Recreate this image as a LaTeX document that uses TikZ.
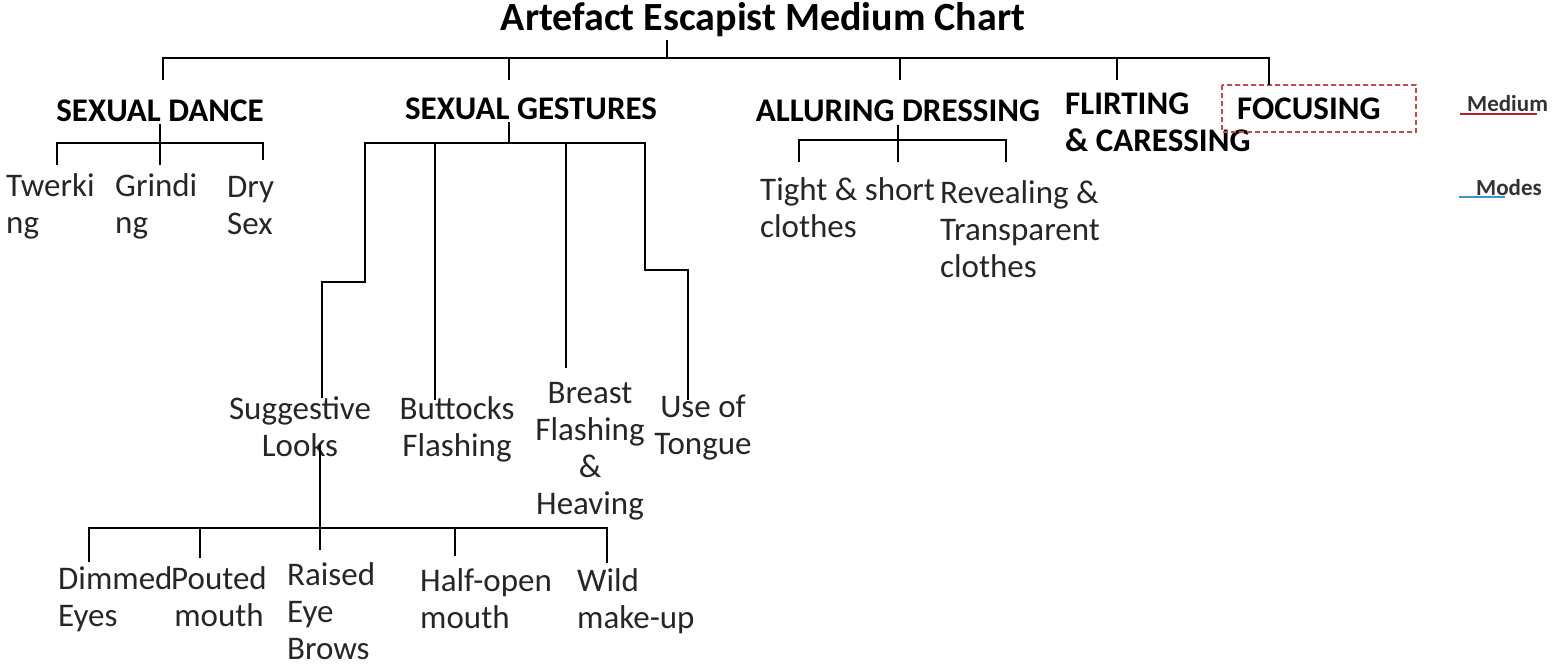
\documentclass[tikz,border=0pt]{standalone}
\usepackage{fontspec}
\setmainfont{Carlito}
\definecolor{boxred}{RGB}{205,70,80}
\definecolor{legred}{RGB}{190,30,40}
\definecolor{legblue}{RGB}{60,150,200}
\begin{document}
\begin{tikzpicture}[x=1pt,y=-1pt,
  ln/.style={line width=1.6pt,black},
  lbl/.style={font=\fontsize{33}{37}\selectfont,inner sep=0pt,align=left,anchor=base west,text=black!85},
  lblc/.style={font=\fontsize{33}{37}\selectfont,inner sep=0pt,align=center,anchor=base,text=black!85},
  hd/.style={font=\bfseries\fontsize{33}{37}\selectfont,inner sep=0pt,anchor=base},
  hdl/.style={font=\bfseries\fontsize{33}{37}\selectfont,inner sep=0pt,anchor=base west,align=left},
  leg/.style={font=\bfseries\fontsize{23}{26}\selectfont,inner sep=0pt,anchor=base west,text=black!80}]
\useasboundingbox (0,0) rectangle (1555,666);
% title
\node[font=\bfseries\fontsize{40}{44}\selectfont,inner sep=0pt,anchor=base] (title) at (763,31) {Artefact Escapist Medium Chart};
% headings (anchor base = baseline of last line)
\node[hd] (sd) at (160,122) {SEXUAL DANCE};
\node[hd] (sg) at (531,120) {SEXUAL GESTURES};
\node[hd] (ad) at (898,122) {ALLURING DRESSING};
\node[hdl] (fc) at (1065,152) {FLIRTING\\\& CARESSING};
\node[hdl] (fo) at (1237,120) {FOCUSING};
\draw[dash pattern=on 5pt off 3pt,boxred,line width=1.1pt] (1222,85) rectangle (1416,132);
% sexual dance children
\node[lbl] (tw) at (6,233) {Twerki\\ng};
\node[lbl] (gr) at (115,233) {Grindi\\ng};
\node[lbl] (ds) at (227,234) {Dry\\Sex};
% sexual gestures children
\node[lblc] (sl) at (300,456) {Suggestive\\Looks};
\node[lblc] (bf) at (457,456) {Buttocks\\Flashing};
\node[lblc] (br) at (590,514) {Breast\\Flashing\\\&\\Heaving};
\node[lblc] (ut) at (703,454) {Use of\\Tongue};
% suggestive looks children
\node[lbl] (de) at (58,626) {Dimmed\\Eyes};
\node[lblc] (pm) at (219,626) {Pouted\\mouth};
\node[lbl] (re) at (287,659) {Raised\\Eye\\Brows};
\node[lbl] (hm) at (420,628) {Half-open\\mouth};
\node[lbl] (wm) at (577,628) {Wild\\make-up};
% alluring dressing children
\node[lbl] (ts) at (760,237) {Tight \& short\\clothes};
\node[lbl] (rt) at (940,277) {Revealing \&\\Transparent\\clothes};
% legend
\node[leg] (lm) at (1467,112) {Medium};
\node[leg] (lo) at (1476,195) {Modes};
\coordinate (lm1) at (1460,114); \coordinate (lm2) at (1537,114);
\coordinate (lo1) at (1459,197); \coordinate (lo2) at (1505,197);
\draw[line width=1.3pt,legred] (lm1) -- (lm2);
\draw[line width=1.3pt,legblue] (lo1) -- (lo2);
% ---- connectors, top level
\coordinate (bus) at (0,58);
\coordinate (tst) at (667,40);
\coordinate (c1) at (163,80);
\coordinate (c2) at (509,80);
\coordinate (c3) at (900,80);
\coordinate (c4) at (1117,80);
\coordinate (c5) at (1269,85);
\draw[ln] (tst) -- (tst |- bus);
\draw[ln] (c1) -- (c1 |- bus) -- (c5 |- bus) -- (c5);
\draw[ln] (c2) -- (c2 |- bus);
\draw[ln] (c3) -- (c3 |- bus);
\draw[ln] (c4) -- (c4 |- bus);
% sexual dance
\coordinate (sds) at (160,124);
\coordinate (sdb) at (0,143);
\coordinate (tw1) at (57,165);
\coordinate (gr1) at (160,165);
\coordinate (ds1) at (263,160);
\draw[ln] (sds) -- (sds |- sdb);
\draw[ln] (tw1) -- (tw1 |- sdb) -- (ds1 |- sdb) -- (ds1);
\draw[ln] (gr1) -- (gr1 |- sdb);
% sexual gestures
\coordinate (sgs) at (509,122);
\coordinate (sgb) at (0,143);
\coordinate (sl0) at (365,143);
\coordinate (sl1) at (365,282);
\coordinate (sl2) at (322,398);
\coordinate (bf1) at (435,400);
\coordinate (br1) at (566,368);
\coordinate (ut0) at (645,143);
\coordinate (ut1) at (645,270);
\coordinate (ut2) at (688,400);
\draw[ln] (sgs) -- (sgs |- sgb);
\draw[ln] (sl2) -- (sl2 |- sl1) -- (sl1) -- (sl0) -- (ut0) -- (ut1) -- (ut2 |- ut1) -- (ut2);
\draw[ln] (bf1) -- (bf1 |- sgb);
\draw[ln] (br1) -- (br1 |- sgb);
% suggestive looks
\coordinate (lks) at (320,445);
\coordinate (lkb) at (0,528);
\coordinate (de1) at (89,562);
\coordinate (pm1) at (200,558);
\coordinate (re1) at (320,550);
\coordinate (hm1) at (455,556);
\coordinate (wm1) at (607,563);
\draw[ln] (lks) -- (re1);
\draw[ln] (de1) -- (de1 |- lkb) -- (wm1 |- lkb) -- (wm1);
\draw[ln] (pm1) -- (pm1 |- lkb);
\draw[ln] (hm1) -- (hm1 |- lkb);
% alluring dressing
\coordinate (ads) at (898,125);
\coordinate (adb) at (0,140);
\coordinate (ts1) at (799,162);
\coordinate (ad1) at (898,162);
\coordinate (rt1) at (1006,162);
\draw[ln] (ads) -- (ad1);
\draw[ln] (ts1) -- (ts1 |- adb) -- (rt1 |- adb) -- (rt1);
\end{tikzpicture}
\end{document}
